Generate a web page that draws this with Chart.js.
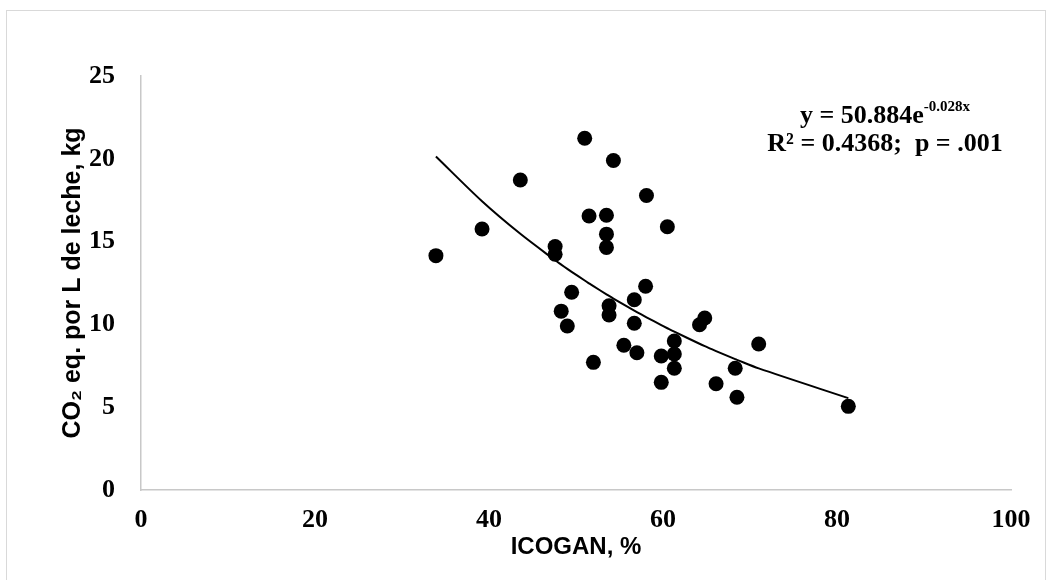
<!DOCTYPE html>
<html>
<head>
<meta charset="utf-8">
<title>ICOGAN vs CO2</title>
<script src="https://cdn.jsdelivr.net/npm/chart.js@4.4.1/dist/chart.umd.min.js"></script>
<style>
  html, body { margin: 0; padding: 0; background: #fff; }
  #wrap { width: 1052px; height: 580px; position: relative; }
</style>
</head>
<body>
<div id="wrap"><canvas id="scatterChart" width="1052" height="580"></canvas></div>
<script>
// data
const icogan = [33.9, 39.2, 43.6, 47.6, 47.6, 48.3, 49.0, 49.5, 51.0, 51.5, 52.0, 53.5,
  53.5, 53.5, 53.8, 53.8, 54.3, 55.5, 56.7, 56.7, 57.0, 58.0, 58.1, 59.8,
  59.8, 60.5, 61.3, 61.3, 61.3, 64.2, 64.8, 66.1, 68.3, 68.5, 71.0, 81.3];
const co2PerLitre = [14.15, 15.76, 18.72, 14.7, 14.24, 10.8, 9.9, 11.94, 21.24, 16.55, 7.71, 16.59,
  15.45, 14.65, 11.13, 10.57, 19.9, 8.74, 10.07, 11.49, 8.29, 12.3, 17.78, 8.09,
  6.5, 15.9, 9.0, 8.21, 7.35, 9.98, 10.39, 6.42, 7.35, 5.6, 8.82, 5.05];
const xTicks = [0, 20, 40, 60, 80, 100];
const yTicks = [0, 5, 10, 15, 20, 25];
const xTitle = 'ICOGAN, %';
const yTitle = 'CO₂ eq. por L de leche, kg';
const eqMain = 'y = 50.884e';
const eqExp = '-0.028x';
const eqStats = 'R² = 0.4368;  p = .001';

// exponential fit (least squares on ln y), same as a spreadsheet trendline
function expFit(xs, ys) {
  const n = xs.length;
  let sx = 0, sy = 0, sxx = 0, sxy = 0;
  xs.forEach((x, i) => {
    const ly = Math.log(ys[i]);
    sx += x; sy += ly; sxx += x * x; sxy += x * ly;
  });
  const b = (n * sxy - sx * sy) / (n * sxx - sx * sx);
  const a = Math.exp((sy - b * sx) / n);
  return { a, b };
}

const fit = expFit(icogan, co2PerLitre);
const trendX = [...new Set(icogan)].sort((p, q) => p - q);

// titles, equation and frame
const annotations = {
  id: 'annotations',
  afterDraw(chart) {
    const ctx = chart.ctx;
    const area = chart.chartArea;
    ctx.save();

    ctx.strokeStyle = '#d9d9d9';
    ctx.lineWidth = 1;
    ctx.strokeRect(6.5, 10.5, 1039, 600);

    ctx.fillStyle = '#000';
    ctx.textAlign = 'center';
    ctx.textBaseline = 'middle';
    ctx.font = 'bold 24px "Liberation Sans", Arial, sans-serif';
    ctx.fillText(xTitle, (area.left + area.right) / 2, 547);

    ctx.save();
    ctx.translate(73, (area.top + area.bottom) / 2);
    ctx.rotate(-Math.PI / 2);
    ctx.font = 'bold 25px "Liberation Sans", Arial, sans-serif';
    ctx.fillText(yTitle, 0, 0);
    ctx.restore();

    // trendline equation
    ctx.textBaseline = 'alphabetic';
    ctx.textAlign = 'left';
    const bigFont = 'bold 26px "Liberation Serif", "Times New Roman", serif';
    const smallFont = 'bold 15px "Liberation Serif", "Times New Roman", serif';
    ctx.font = bigFont;
    const w1 = ctx.measureText(eqMain).width;
    ctx.font = smallFont;
    const w2 = ctx.measureText(eqExp).width;
    const cx = 885;
    const x0 = cx - (w1 + w2) / 2;
    ctx.font = bigFont;
    ctx.fillText(eqMain, x0, 123);
    ctx.font = smallFont;
    ctx.fillText(eqExp, x0 + w1, 111);

    ctx.font = bigFont;
    const w3 = ctx.measureText(eqStats).width;
    ctx.fillText(eqStats, cx - w3 / 2, 151);

    ctx.restore();
  }
};

const tickFont = { family: '"Liberation Serif", "Times New Roman", serif', size: 26, weight: 'bold' };

new Chart(document.getElementById('scatterChart'), {
  type: 'scatter',
  data: {
    datasets: [
      {
        label: 'datos',
        data: icogan.map((x, i) => ({ x, y: co2PerLitre[i] })),
        backgroundColor: '#000',
        borderWidth: 0,
        pointRadius: 7.5,
        pointHoverRadius: 7.5
      },
      {
        label: 'tendencia',
        type: 'line',
        data: trendX.map(x => ({ x, y: fit.a * Math.exp(fit.b * x) })),
        borderColor: '#000',
        borderWidth: 2,
        pointRadius: 0,
        fill: false,
        tension: 0.3
      }
    ]
  },
  options: {
    responsive: false,
    animation: false,
    events: [],
    layout: { padding: { top: 76, right: 41, left: 0, bottom: 0 } },
    plugins: {
      legend: { display: false },
      tooltip: { enabled: false }
    },
    scales: {
      x: {
        type: 'linear',
        min: 0,
        max: 100,
        afterBuildTicks: scale => { scale.ticks = xTicks.map(v => ({ value: v })); },
        afterFit: scale => { scale.height = 90; },
        grid: { display: false, drawTicks: false },
        border: { display: true, color: '#c8c8c8', width: 1.5 },
        ticks: { color: '#000', font: tickFont, padding: 15, maxRotation: 0 }
      },
      y: {
        type: 'linear',
        min: 0,
        max: 25,
        afterBuildTicks: scale => { scale.ticks = yTicks.map(v => ({ value: v })); },
        afterFit: scale => { scale.width = 141; },
        grid: { display: false, drawTicks: false },
        border: { display: true, color: '#c8c8c8', width: 1.5 },
        ticks: { color: '#000', font: tickFont, padding: 26 }
      }
    }
  },
  plugins: [annotations]
});
</script>
</body>
</html>
